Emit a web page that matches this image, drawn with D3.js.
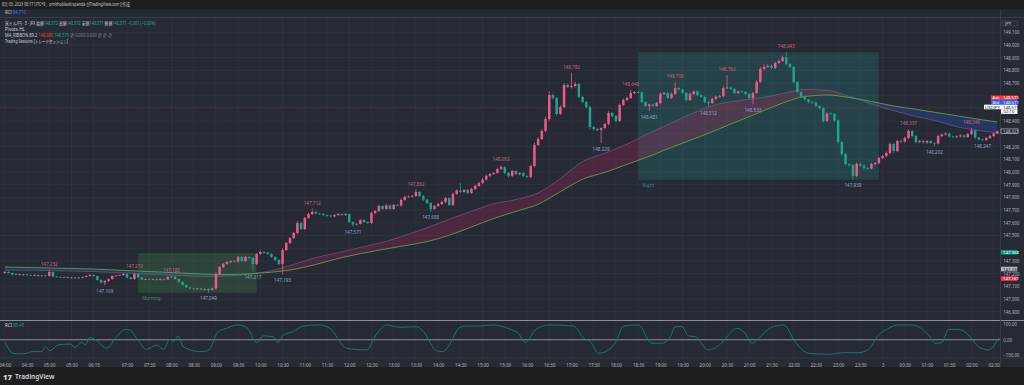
<!DOCTYPE html>
<html><head><meta charset="utf-8">
<script src="https://cdn.jsdelivr.net/npm/d3@7"></script>
<style>
html,body{margin:0;padding:0;background:#1e1e1e;overflow:hidden}
text{font-family:"Noto Sans","Noto Sans CJK JP",sans-serif}
</style></head><body><div id="chart"></div>
<script>
// ---- data (USD/JPY, 5 min bars) ----
const firstOpen = 147.205;
const closes = [
147.213,147.205,147.193,147.197,147.189,147.193,147.189,147.185,147.189,147.181,
147.185,147.181,147.213,147.177,147.173,147.169,147.173,147.165,147.169,147.165,
147.169,147.173,147.181,147.189,147.181,147.150,147.130,147.142,147.157,147.181,
147.185,147.189,147.197,147.169,147.157,147.197,147.169,147.154,147.157,147.154,
147.157,147.150,147.157,147.154,147.173,147.177,147.157,147.134,147.110,147.091,
147.083,147.079,147.083,147.075,147.079,147.071,147.083,147.197,147.252,147.276,
147.291,147.299,147.295,147.331,147.299,147.331,147.323,147.276,147.354,147.370,
147.366,147.354,147.331,147.307,147.276,147.386,147.441,147.480,147.520,147.598,
147.551,147.638,147.669,147.685,147.673,147.669,147.661,147.657,147.650,147.661,
147.669,147.661,147.669,147.606,147.587,147.591,147.622,147.606,147.598,147.677,
147.693,147.732,147.709,147.736,147.709,147.740,147.736,147.780,147.803,147.807,
147.811,147.843,147.811,147.783,147.756,147.709,147.732,147.748,147.764,147.795,
147.740,147.827,147.854,147.843,147.858,147.835,147.866,147.890,147.913,147.941,
147.969,147.984,147.992,148.024,148.039,147.992,147.969,148.008,147.984,147.992,
147.969,147.961,148.047,148.213,148.260,148.323,148.417,148.606,148.583,148.457,
148.512,148.685,148.669,148.677,148.693,148.591,148.551,148.512,148.354,148.339,
148.331,148.346,148.378,148.465,148.441,148.402,148.528,148.567,148.583,148.622,
148.630,148.626,148.551,148.520,148.531,148.520,148.543,148.614,148.622,148.583,
148.614,148.661,148.650,148.622,148.567,148.614,148.634,148.606,148.591,148.551,
148.543,148.575,148.594,148.598,148.661,148.665,148.654,148.622,148.634,148.630,
148.614,148.583,148.622,148.709,148.811,148.827,148.835,148.819,148.858,148.874,
148.902,148.850,148.827,148.709,148.630,148.591,148.571,148.551,148.547,148.520,
148.504,148.402,148.461,148.457,148.406,148.236,148.142,148.063,148.055,147.969,
148.063,148.051,148.031,148.028,148.063,148.071,148.110,148.126,148.150,148.220,
148.165,148.244,148.240,148.268,148.323,148.283,148.236,148.244,148.232,148.244,
148.228,148.224,148.283,148.295,148.303,148.280,148.276,148.280,148.287,148.276,
148.299,148.327,148.272,148.256,148.252,148.268,148.283,148.303,148.321];
// wick lengths above / below the body, in thousandths of a yen
const upWick = [
6,4,5,3,4,5,3,4,6,3,4,3,19,4,3,5,4,3,4,5,
4,6,5,8,4,3,5,6,4,5,4,3,6,4,5,13,5,4,3,4,
3,4,5,3,6,3,4,3,5,4,3,4,5,3,4,5,6,12,10,8,
7,6,9,8,6,10,7,9,8,12,6,5,7,4,6,14,9,8,10,16,
8,9,11,27,10,6,7,5,6,8,7,6,9,5,6,7,8,6,5,10,
9,11,8,12,9,10,7,14,12,9,10,19,8,7,6,5,8,9,11,10,
7,12,10,59,9,8,10,11,9,12,10,8,9,11,13,7,6,9,8,7,
6,5,12,18,14,16,20,30,12,10,15,14,13,105,16,8,9,7,10,8,
9,6,10,14,8,9,12,11,10,26,9,8,7,6,8,7,10,12,9,8,
11,45,10,7,8,12,9,8,7,6,8,10,9,8,14,97,10,8,9,7,
8,6,9,14,16,20,12,10,12,11,14,41,9,8,7,6,8,7,9,6,
7,10,12,9,8,10,9,7,8,6,14,9,8,7,10,9,11,8,12,14,
9,12,10,11,14,8,7,10,9,8,7,6,10,9,11,7,6,8,9,7,
10,19,6,5,7,8,9,8,6];
const dnWick = [
5,4,6,3,5,4,6,3,4,5,4,3,5,6,4,3,5,4,3,6,
4,5,3,4,6,5,8,21,7,5,4,3,5,6,4,5,3,4,5,4,
3,5,4,6,3,4,5,6,7,5,6,4,5,3,6,22,4,10,8,9,
7,8,6,9,7,8,10,59,8,7,9,6,8,7,10,83,9,11,8,10,
9,8,7,6,5,7,6,8,5,7,6,8,5,9,16,7,6,8,7,9,
8,7,9,6,10,8,7,9,8,6,7,8,9,10,8,21,7,6,8,9,
10,9,7,8,6,9,7,8,6,7,9,8,7,6,8,9,10,7,8,11,
9,8,10,12,10,9,11,13,12,14,10,9,8,11,10,12,9,11,14,12,
10,102,9,11,12,10,9,8,10,7,8,9,10,11,39,8,7,9,8,10,
9,8,10,9,11,8,7,9,10,12,31,8,9,7,10,8,9,11,8,7,
9,10,50,8,9,10,8,11,9,7,8,10,12,11,10,9,8,10,9,11,
12,14,10,11,13,15,14,12,13,30,10,11,12,9,8,10,9,8,10,12,
14,9,10,8,9,11,10,9,8,10,9,22,8,9,7,10,9,8,7,9,
8,9,10,9,5,7,8,6,7];

const pivotHighIdx = [12,35,45,83,111,134,153,169,181,195,211,244,261];
const pivotLowIdx  = [27,55,67,75,94,115,161,174,190,202,229,251,264];

const timeIdx = [0,6,12,18,24,33,39,45,51,57,63,69,75,81,87,93,99,105,111,117,123,129,135,141,147,
  153,159,165,171,177,183,189,195,201,207,213,219,225,231,237,243,249,255,261,267];
const timeLabels = ["04:00","04:30","05:00","05:30","06:15","07:00","07:30","08:00","08:30","09:00",
  "09:30","10:00","10:30","11:00","11:30","12:00","12:30","13:00","13:30","14:00","14:30","15:00",
  "15:30","16:00","16:30","17:00","17:30","18:00","18:30","19:00","19:30","20:00","20:30","21:00",
  "21:30","22:00","22:30","23:00","23:30","3","00:30","01:00","01:30","02:00","02:30"];

const priceTicks = [146.9,147.0,147.1,147.2,147.3,147.4,147.5,147.6,147.7,147.8,147.9,148.0,
  148.1,148.2,148.3,148.4,148.5,148.6,148.7,148.8,148.9,149.0,149.1];

const maIdx = [0,6,12,18,24,30,36,42,48,54,60,66,72,78,84,90,96,102,108,114,120,126,132,138,144,
  150,156,162,168,174,180,186,192,198,204,210,216,222,228,234,240,246,252,258,264,268];
const maFast = [147.228,147.227,147.224,147.220,147.216,147.208,147.200,147.192,147.184,147.177,
  147.181,147.197,147.223,147.272,147.326,147.365,147.406,147.446,147.500,147.561,147.628,147.691,
  147.750,147.783,147.835,147.949,148.083,148.148,148.219,148.307,148.386,148.466,148.531,148.561,
  148.584,148.617,148.650,148.643,148.596,148.535,148.483,148.438,148.398,148.350,148.323,148.307];
const maSlow = [147.252,147.248,147.244,147.240,147.235,147.228,147.220,147.212,147.204,147.196,
  147.193,147.198,147.211,147.233,147.272,147.319,147.357,147.390,147.420,147.452,147.502,147.567,
  147.634,147.690,147.746,147.845,147.943,147.997,148.060,148.124,148.194,148.260,148.329,148.401,
  148.472,148.543,148.595,148.606,148.587,148.555,148.520,148.494,148.466,148.438,148.410,148.394];

const rciIdx = [0,2.3,4.1,5.9,7.3,10,10.9,12.2,14.4,17.6,19,20.8,21.7,23,24.8,27.5,30.2,32.5,33.8,35.6,
  38.3,41,42.8,44.6,45.5,46.8,48.2,52.7,54.9,57.6,59.9,62.6,65.3,68,69.8,72.5,73.8,75.2,77.9,80.6,
  85.1,87.8,92.3,97.7,100.4,103.1,106.7,111.2,113,116.6,118.4,119.7,122.9,124.7,128.3,131.9,136.9,
  138.7,140.5,143.2,146.8,153.6,156.3,158.1,160.3,163,164.8,167.1,171.1,174.7,177.4,179.7,181,182.8,
  184.6,186.4,190,193.6,195.4,197.7,199.9,201.7,204.4,207.1,210.3,213.4,217,222.4,226.9,230.5,233.2,
  235.9,238.6,241.3,244.9,249.4,251.2,253,254.8,257.5,260.2,262.9,265.6,268.3];
const rciVal = [-13,-89,-93,-89,-78,-78,-46,-72,-34,-28,-50,-17,-34,16,-6,-56,20,68,64,10,
  -63,-34,-63,3,-13,25,-46,-78,-72,53,75,97,82,-19,25,20,-19,31,53,90,
  97,75,-56,-67,38,97,82,86,53,-72,-78,-46,82,90,90,97,64,
  42,-19,64,97,90,10,-13,-89,-67,-19,90,97,-23,-23,20,86,86,
  25,20,-67,-19,31,75,42,-23,31,82,97,-13,-89,-95,-85,-85,-63,
  31,75,97,97,31,-23,-19,68,68,31,-46,-67,10];
const rciTicks = [100,0,-100];

const sessionNames = ["Morning","Night"];
const sessionStart = [36,171];
const sessionEnd = [68,236];
const sessionColors = ["#4caf50","#26a69a"];

const refLine = 148.512;
const askPrice = 148.575, bidPrice = 148.571, symPrice = 148.571;
const levelPrices = [147.368,147.236,147.161];
const levelColors = ["#089981","#b2b5be","#f23645"];

// ---- layout ----
const W = 1024, H = 385;
const plotR = 1000, mainTop = 17.5, mainBot = 320.5, rciBot = 358, axisBot = 367;
const upCol = "#f0588c", dnCol = "#1ca58c", txt = "#b2b5be";

const svg = d3.select("#chart").append("svg").attr("width", W).attr("height", H);
svg.append("rect").attr("width", W).attr("height", H).attr("fill", "#1e1e1e");
svg.append("rect").attr("y", 9.5).attr("width", W).attr("height", axisBot - 9.5).attr("fill", "#262a35");

const x = d3.scaleLinear().domain([0, 268]).range([4.8, 997.4]);
const y = d3.scaleLinear().domain([148, 149]).range([172, 45]);
const yr = d3.scaleLinear().domain([-100, 100]).range([355, 324.5]);

const defs = svg.append("defs");
defs.append("clipPath").attr("id", "mainClip").append("rect")
  .attr("x", 0).attr("y", mainTop).attr("width", plotR).attr("height", mainBot - mainTop);
defs.append("clipPath").attr("id", "rciClip").append("rect")
  .attr("x", 0).attr("y", mainBot).attr("width", plotR).attr("height", rciBot - mainBot);
defs.append("clipPath").attr("id", "axisClip").append("rect")
  .attr("x", 0).attr("y", rciBot).attr("width", plotR).attr("height", axisBot - rciBot);

// grid
const grid = svg.append("g");
grid.selectAll("line.v").data(timeIdx).join("line")
  .attr("x1", d => x(d)).attr("x2", d => x(d)).attr("y1", mainTop).attr("y2", rciBot)
  .attr("stroke", "#2f3340").attr("stroke-width", 0.8);
grid.selectAll("line.h").data(priceTicks).join("line")
  .attr("x1", 0).attr("x2", plotR).attr("y1", d => y(d)).attr("y2", d => y(d))
  .attr("stroke", "#2f3340").attr("stroke-width", 0.8);

const main = svg.append("g").attr("clip-path", "url(#mainClip)");

// candles
const candles = closes.map((c, i) => {
  const o = i ? closes[i - 1] : firstOpen;
  return {i, o, c, h: Math.max(o, c) + upWick[i] / 1000, l: Math.min(o, c) - dnWick[i] / 1000};
});

// session boxes
sessionNames.forEach((name, k) => {
  const seg = candles.slice(sessionStart[k], sessionEnd[k] + 1);
  const hi = d3.max(seg, d => d.h), lo = d3.min(seg, d => d.l);
  main.append("rect")
    .attr("x", x(sessionStart[k])).attr("width", x(sessionEnd[k]) - x(sessionStart[k]))
    .attr("y", y(hi)).attr("height", y(lo) - y(hi))
    .attr("fill", sessionColors[k]).attr("fill-opacity", 0.2);
  main.append("text").attr("x", x(sessionStart[k]) + 4).attr("y", y(lo) + 7.5)
    .attr("font-size", 4.6).attr("fill", sessionColors[k]).attr("fill-opacity", 0.8).text(name);
});

// MA ribbon
const ma = maIdx.map((d, i) => ({i: d, f: maFast[i], s: maSlow[i]}));
const curve = d3.curveMonotoneX;
defs.append("clipPath").attr("id", "aboveSlow").append("path")
  .attr("d", d3.area().curve(curve).x(d => x(d.i)).y0(0).y1(d => y(d.s))(ma));
defs.append("clipPath").attr("id", "belowSlow").append("path")
  .attr("d", d3.area().curve(curve).x(d => x(d.i)).y0(H).y1(d => y(d.s))(ma));
const band = d3.area().curve(curve).x(d => x(d.i)).y0(d => y(d.s)).y1(d => y(d.f));
main.append("g").attr("clip-path", "url(#aboveSlow)").append("path")
  .attr("d", band(ma)).attr("fill", "#e91e63").attr("fill-opacity", 0.2);
main.append("g").attr("clip-path", "url(#belowSlow)").append("path")
  .attr("d", band(ma)).attr("fill", "#2962ff").attr("fill-opacity", 0.22);
main.append("path").attr("d", d3.line().curve(curve).x(d => x(d.i)).y(d => y(d.f))(ma))
  .attr("fill", "none").attr("stroke", "#7c6a92").attr("stroke-opacity", 0.7).attr("stroke-width", 0.8);
main.append("path").attr("d", d3.line().curve(curve).x(d => x(d.i)).y(d => y(d.s))(ma))
  .attr("fill", "none").attr("stroke", "#5ba34e").attr("stroke-width", 0.9);

// dotted reference line
main.append("line").attr("x1", 0).attr("x2", plotR).attr("y1", y(refLine)).attr("y2", y(refLine))
  .attr("stroke", "#f23645").attr("stroke-opacity", 0.55).attr("stroke-width", 0.7)
  .attr("stroke-dasharray", "1,1.5");

const cg = main.append("g");
cg.selectAll("line").data(candles).join("line")
  .attr("x1", d => x(d.i)).attr("x2", d => x(d.i))
  .attr("y1", d => y(d.h)).attr("y2", d => y(d.l))
  .attr("stroke", d => d.c >= d.o ? upCol : dnCol).attr("stroke-width", 0.8);
cg.selectAll("rect").data(candles).join("rect")
  .attr("x", d => x(d.i) - 1.25).attr("width", 2.5)
  .attr("y", d => y(Math.max(d.o, d.c)))
  .attr("height", d => Math.max(0.7, Math.abs(y(d.o) - y(d.c))))
  .attr("fill", d => d.c >= d.o ? upCol : dnCol);

// pivot labels
const fmt = d3.format(".3f");
main.selectAll("text.ph").data(pivotHighIdx).join("text")
  .attr("x", d => x(d)).attr("y", d => y(candles[d].h) - 4)
  .attr("text-anchor", "middle").attr("font-size", 4.6).attr("fill", "#d2627c")
  .text(d => fmt(candles[d].h));
main.selectAll("text.pl").data(pivotLowIdx).join("text")
  .attr("x", d => x(d)).attr("y", d => y(candles[d].l) + 7.6)
  .attr("text-anchor", "middle").attr("font-size", 4.6).attr("fill", "#8da3cc")
  .text(d => fmt(candles[d].l));

// RCI pane
svg.append("line").attr("x1", 0).attr("x2", W).attr("y1", mainBot).attr("y2", mainBot)
  .attr("stroke", "#8b8e97").attr("stroke-width", 1);
svg.append("line").attr("x1", 0).attr("x2", plotR).attr("y1", yr(0)).attr("y2", yr(0))
  .attr("stroke", "#8b8e97").attr("stroke-width", 1);
svg.append("line").attr("x1", 0).attr("x2", W).attr("y1", rciBot).attr("y2", rciBot)
  .attr("stroke", "#363a45").attr("stroke-width", 0.8);
svg.append("line").attr("x1", 0).attr("x2", W).attr("y1", mainTop).attr("y2", mainTop)
  .attr("stroke", "#3c404b").attr("stroke-width", 0.8);
svg.append("line").attr("x1", plotR + 0.5).attr("x2", plotR + 0.5).attr("y1", 9.5).attr("y2", axisBot)
  .attr("stroke", "#3c404b").attr("stroke-width", 0.8);

const rci = rciIdx.map((d, i) => ({i: d, v: rciVal[i]}));
svg.append("g").attr("clip-path", "url(#rciClip)").append("path")
  .attr("d", d3.line().curve(curve).x(d => x(d.i)).y(d => yr(d.v))(rci))
  .attr("fill", "none").attr("stroke", "#17806f").attr("stroke-width", 0.9);

// axes
const tAxis = svg.append("g").attr("clip-path", "url(#axisClip)")
  .append("g").attr("transform", `translate(0,${rciBot})`)
  .call(d3.axisBottom(x).tickValues(timeIdx).tickSize(0).tickPadding(5.5)
    .tickFormat((d, i) => timeLabels[i]));
tAxis.select(".domain").remove();
tAxis.selectAll("text").attr("font-size", 4.5).attr("fill", txt);

const badgeYs = levelPrices.map(p => y(p)).concat([y(bidPrice), y(148.321)]);
const pTicks = priceTicks.filter(p => badgeYs.every(b => Math.abs(y(p) - b) > 4.5) &&
  Math.abs(y(p) - y(bidPrice) - 5) > 10);
const pAxis = svg.append("g").attr("transform", `translate(${plotR + 1},0)`)
  .call(d3.axisRight(y).tickValues(pTicks).tickSize(0).tickPadding(2.2).tickFormat(fmt));
pAxis.select(".domain").remove();
pAxis.selectAll("text").attr("font-size", 4.4).attr("fill", txt);

const rAxis = svg.append("g").attr("transform", `translate(${plotR + 1},0)`)
  .call(d3.axisRight(yr).tickValues(rciTicks).tickSize(0).tickPadding(2.2).tickFormat(d3.format(".2f")));
rAxis.select(".domain").remove();
rAxis.selectAll("text").attr("font-size", 4.4).attr("fill", txt);

// price axis badges
function badge(x0, yc, w, fill, stroke, parts) {
  svg.append("rect").attr("x", x0).attr("y", yc - 2.3).attr("width", w).attr("height", 4.6)
    .attr("fill", fill).attr("stroke", stroke || "none").attr("stroke-width", 0.6);
  parts.forEach(p => svg.append("text").attr("x", p[0]).attr("y", yc + 1.6)
    .attr("font-size", 4.3).attr("fill", p[2]).text(p[1]));
}
const by = y(bidPrice);
badge(991, by - 1.7, 26.5, "#f23645", null, [[992.5, "Ask", "#fff"], [1003, fmt(askPrice), "#fff"]]);
badge(991, by + 2.9, 26.5, "#2962ff", null, [[992.5, "Bid", "#fff"], [1003, fmt(bidPrice), "#fff"]]);
badge(984, by + 7.5, 33.5, "#ffffff", null, [[985, "USDJPY", "#131722"], [1003, fmt(symPrice), "#131722"]]);
badge(1001, by + 12.1, 16.5, "#ffffff", null, [[1003.5, "02:10", "#131722"]]);
badge(1001, y(closes[closes.length - 1]), 17, "#262a35", "#d1d4dc",
  [[1003, fmt(closes[closes.length - 1]), "#d1d4dc"]]);
levelPrices.forEach((p, k) => badge(1001, y(p), 16.5, levelColors[k], null,
  [[1003, fmt(p), k === 1 ? "#131722" : "#fff"]]));
badge(1002, 23.5, 15.5, "#262a35", "#50535e", [[1005, "JPY", "#d1d4dc"]]);

// header texts, squeezed horizontally to the widths seen in the screenshot
function fitText(xp, yp, size, width, parts) {
  const t = svg.append("text").attr("font-size", size);
  parts.forEach(s => t.append("tspan").attr("fill", s[1]).text(s[0]));
  const w = t.node().getComputedTextLength();
  t.attr("transform", `translate(${xp},${yp}) scale(${Math.min(1, width / w)},1)`);
  return t;
}
const up = "#22ab94", lg = "#d1d4dc";
fitText(2, 6.3, 4.4, 128, [["8月 03, 2023 08:17 UTC+9、ornithoblasticspanda がTradingView.comで作成", "#c9cbd1"]]);
fitText(5, 14.4, 4.4, 21, [["RCI ", lg], ["84.710", "#3d7bf5"]]);
const legend = [
  [["米ドル/円 · 5 · JFX  始値", lg], ["148.572", up], [" 高値", lg], ["148.572", up], [" 安値", lg],
   ["148.571", up], [" 終値", lg], ["148.571", up], [" −0.001 (−0.00%)", up]],
  [["Pivots HL", lg]],
  [["MA_RIBBON 89.2  ", lg], ["148.680", "#f23645"], ["  148.575", up], ["  ∅  0.000  0.000  ∅  ∅  ∅", "#868993"]],
  [["Trading Sessions [トレードセッション]", lg]]
];
const legendW = [151, 25, 107, 63];
legend.forEach((row, r) => fitText(5, 24.6 + r * 6, 4.6, legendW[r], row));
fitText(5, 326.8, 4.4, 21, [["RCI ", lg], ["85.45", "#17a08a"]]);

// footer logo
svg.append("text").attr("x", 3).attr("y", 379.5).attr("font-size", 7.5).attr("font-weight", 900)
  .attr("fill", "#d1d4dc").text("17");
svg.append("text").attr("x", 15).attr("y", 379.2).attr("font-size", 6.6).attr("font-weight", 600)
  .attr("fill", "#d1d4dc").text("TradingView");
</script></body></html>
